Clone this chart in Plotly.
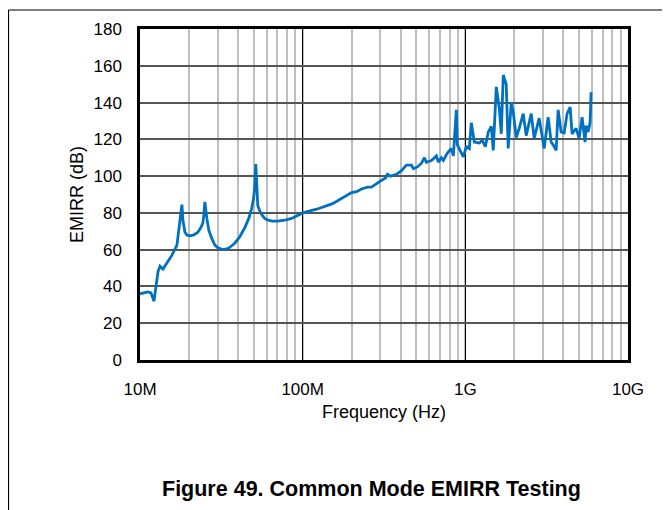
import plotly.graph_objects as go

# Frequency in MHz and EMIRR in dB
freq_mhz = [10.0, 11.19, 11.68, 12.19, 12.90, 13.27, 13.84, 14.85, 15.72, 16.87,
            17.35, 17.72, 18.10, 18.36, 18.89, 19.43, 20.26, 21.45, 22.69, 23.67,
            24.35, 24.70, 25.05, 25.76, 26.50, 27.65, 28.85, 30.09, 32.30, 34.67,
            38.27, 41.07, 44.09, 46.64, 48.66, 50.06, 50.77, 51.49, 52.22, 52.97,
            54.47, 56.03, 58.47, 61.00, 65.46, 70.25, 77.54, 85.6,
            100, 121.9, 152.8, 176.0, 199.8, 214.5, 230.1, 250.5, 265.0, 296.8,
            323.0, 332.3, 346.7, 377.4, 405.1, 434.5, 466.3, 479.7, 507.5, 537.3,
            560.5, 576.4, 618.7, 664.0, 683.1, 712.6, 732.8, 775.6, 820.6, 844.1,
            880.6, 893.1, 931.8, 972.0, 1014, 1058, 1088, 1136, 1219, 1272,
            1327, 1384, 1444, 1485, 1550, 1617, 1663, 1711, 1784, 1835,
            1915, 1970, 2055, 2145, 2269, 2367, 2541, 2650, 2844, 2968,
            3051, 3230, 3370, 3467, 3616, 3720, 3881, 4050, 4225, 4409,
            4533, 4797, 5006, 5222, 5447, 5525, 5683, 5847, 5930]
emirr_db = [36, 37, 36.5, 32, 48, 51, 49.5, 54, 57, 62.5,
            72, 77, 84.5, 76, 69.5, 68, 67.5, 68, 69.5, 72,
            74.5, 79, 86, 77, 70.5, 66, 62.5, 61, 60, 60.5,
            63.5, 67, 72, 77, 82.5, 88.6, 95, 106.5, 94, 84,
            81, 79, 77, 76, 75.5, 75.5, 76, 77,
            80, 82, 85, 88, 91, 91.5, 93, 94, 94, 97,
            99, 101, 100, 101, 103, 106, 106, 104, 105, 107,
            110, 107.5, 108.5, 111, 107.6, 110, 108.5, 112.5, 115, 111,
            136, 117, 114, 110.5, 116, 115, 129, 118.5, 118, 119.5,
            116, 124, 127, 114, 148.5, 137, 123, 155, 150, 115,
            140, 135, 121, 126, 134, 122, 134, 120.5, 131.5, 122,
            115, 132, 118.5, 117, 114, 136, 124, 123.5, 134, 137.5,
            123, 126, 120.5, 132, 118.5, 127.5, 124, 129, 145.6]

x_tickvals = [1e7, 1e8, 1e9, 1e10]
x_ticktext = ["10M", "100M", "1G", "10G"]
y_tickvals = [0, 20, 40, 60, 80, 100, 120, 140, 160, 180]

freq_hz = [f * 1e6 for f in freq_mhz]

fig = go.Figure()
fig.add_trace(go.Scatter(x=freq_hz, y=emirr_db, mode="lines",
                         line=dict(color="#0070C0", width=2.8),
                         showlegend=False, hoverinfo="skip"))

font_family = "Liberation Sans, Arial, sans-serif"

# page body adds an 8px offset, so the figure is 8px smaller on each axis
fig.update_layout(
    width=662, height=502,
    margin=dict(l=132, r=42, t=21, b=150),
    paper_bgcolor="white", plot_bgcolor="white",
    font=dict(family=font_family, size=17, color="black"),
    xaxis=dict(
        type="log", range=[7, 10],
        tickvals=x_tickvals, ticktext=x_ticktext,
        showgrid=True, gridcolor="black", gridwidth=1,
        minor=dict(dtick="D1", showgrid=True, gridcolor="#BFBFBF", gridwidth=2, ticks=""),
        showline=True, linecolor="black", linewidth=2.5, mirror=True,
        ticks="", ticklabelstandoff=12, zeroline=False, automargin=False,
        title=dict(text="Frequency (Hz)", font=dict(size=18), standoff=8),
    ),
    yaxis=dict(
        range=[0, 180], tickvals=y_tickvals,
        showgrid=True, gridcolor="#555555", gridwidth=1.5,
        showline=True, linecolor="black", linewidth=2.5, mirror=True,
        ticks="", ticklabelstandoff=12, zeroline=False, automargin=False,
        title=dict(text="EMIRR (dB)", font=dict(size=18), standoff=6),
    ),
    shapes=[
        dict(type="line", xref="paper", yref="paper", x0=-0.2695, x1=1.1, y0=1.0574, y1=1.0574,
             line=dict(color="black", width=1.2)),
        dict(type="line", xref="paper", yref="paper", x0=-0.2695, x1=-0.2695, y0=1.0574, y1=-0.5,
             line=dict(color="black", width=1.2)),
    ],
    annotations=[
        dict(text="<b>Figure 49. Common Mode EMIRR Testing</b>", xref="paper", yref="paper",
             x=0.474, y=-0.39, xanchor="center", yanchor="middle", showarrow=False,
             font=dict(size=21.5, family=font_family, color="black")),
    ],
)

fig.write_html("out.html")
